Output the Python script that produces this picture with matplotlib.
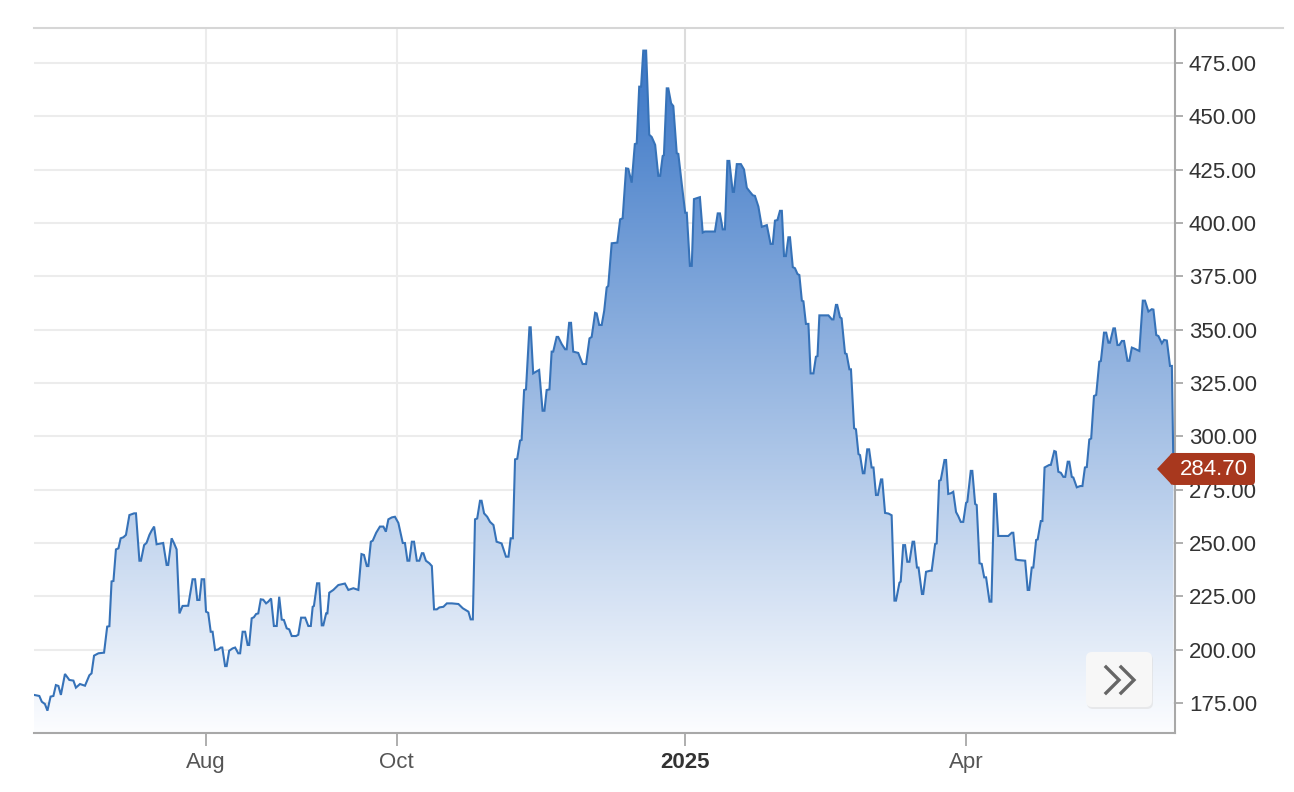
import datetime as dt
import numpy as np
import matplotlib
matplotlib.use("Agg")
import matplotlib.pyplot as plt
import matplotlib.dates as mdates
from matplotlib.patches import Polygon, FancyBboxPatch

plt.rcParams['font.family'] = ['Liberation Sans', 'DejaVu Sans']

# price history (days counted from 7 Jun 2024)
start = dt.datetime(2024, 6, 7)
days = [
    0.0, 1.7, 2.5, 3.5, 4.3, 5.3, 6.2, 7.0, 7.8, 8.6,
    9.9, 11.3, 12.6, 13.4, 14.7, 16.3, 17.7, 18.4, 19.2, 20.6,
    22.4, 23.4, 24.1, 24.8, 25.4, 26.2, 27.0, 27.7, 28.6, 29.4,
    30.5, 32.0, 32.6, 33.7, 34.2, 35.2, 36.0, 36.9, 37.6, 38.4,
    39.2, 40.5, 41.3, 42.4, 42.9, 44.0, 44.8, 45.6, 46.5, 47.5,
    49.3, 50.7, 51.5, 52.2, 52.9, 53.6, 54.4, 55.0, 55.7, 56.5,
    57.1, 57.9, 58.9, 59.7, 60.2, 61.1, 61.6, 62.4, 63.5, 64.3,
    65.3, 65.9, 66.7, 67.5, 68.3, 68.8, 69.6, 70.3, 71.0, 71.7,
    72.5, 73.3, 74.2, 74.9, 75.8, 76.7, 77.6, 78.4, 79.2, 79.9,
    80.8, 81.6, 82.4, 83.8, 84.5, 85.4, 86.7, 87.7, 88.5, 89.1,
    89.5, 90.5, 91.2, 92.0, 92.5, 93.4, 93.8, 94.4, 95.7, 97.3,
    99.4, 100.5, 102.1, 103.7, 104.7, 105.5, 106.4, 106.9, 107.7, 108.3,
    109.4, 110.6, 111.7, 112.5, 113.3, 114.4, 115.4, 116.5, 117.9, 118.6,
    119.4, 120.0, 120.8, 121.5, 122.4, 123.2, 124.0, 124.5, 125.3, 126.4,
    127.2, 127.9, 128.8, 129.6, 130.9, 132.0, 133.6, 135.7, 137.1, 138.9,
    139.6, 140.3, 141.0, 141.7, 142.6, 143.1, 143.9, 144.9, 145.8, 146.9,
    147.9, 149.5, 150.9, 151.7, 152.4, 153.1, 153.8, 154.5, 155.4, 155.9,
    156.7, 157.3, 158.4, 158.8, 159.6, 160.5, 161.5, 162.6, 163.2, 163.9,
    164.8, 165.5, 166.0, 167.1, 167.6, 168.7, 169.8, 170.3, 171.1, 171.7,
    172.4, 174.0, 175.4, 176.5, 177.6, 178.3, 179.4, 179.9, 180.7, 181.5,
    182.3, 183.1, 183.6, 184.7, 186.5, 187.4, 188.2, 189.3, 190.0, 191.1,
    192.1, 192.7, 193.5, 194.1, 194.8, 195.7, 196.7, 197.5, 198.6, 199.6,
    200.2, 201.0, 201.4, 202.3, 202.8, 203.7, 204.4, 205.5, 206.0, 207.1,
    208.2, 208.7, 209.7, 210.3, 211.0, 212.9, 213.8, 214.5, 217.7, 218.6,
    219.3, 220.2, 220.9, 221.7, 222.3, 223.4, 223.8, 224.7, 226.0, 227.0,
    227.9, 228.9, 229.8, 230.5, 231.6, 232.7, 234.3, 235.5, 236.2, 236.9,
    237.7, 238.5, 239.1, 239.8, 240.4, 241.2, 241.7, 242.6, 243.3, 244.1,
    244.7, 245.5, 246.0, 246.8, 247.6, 248.3, 249.2, 250.0, 250.5, 251.1,
    254.0, 255.1, 255.6, 256.4, 256.8, 257.7, 258.2, 259.3, 259.8, 260.7,
    261.2, 262.2, 262.8, 263.6, 264.1, 265.0, 265.5, 266.4, 267.0, 267.8,
    268.4, 269.2, 269.8, 270.8, 271.2, 272.1, 273.2, 274.2, 275.1, 275.6,
    276.7, 277.1, 277.9, 278.5, 279.2, 279.9, 280.9, 281.4, 282.3, 282.8,
    283.9, 284.3, 285.2, 286.5, 287.0, 288.1, 288.6, 289.4, 289.9, 291.1,
    291.6, 292.3, 293.1, 293.9, 294.8, 295.5, 296.3, 297.1, 298.0, 298.4,
    299.5, 300.0, 300.9, 301.4, 302.3, 303.0, 303.8, 304.4, 305.5, 306.1,
    307.0, 307.5, 308.3, 311.5, 312.6, 313.1, 313.9, 314.7, 316.9, 317.7,
    318.2, 319.0, 319.5, 320.4, 320.9, 321.9, 322.4, 323.1, 324.6, 325.1,
    326.2, 326.7, 327.5, 328.3, 329.1, 329.7, 330.5, 331.0, 331.8, 332.3,
    333.4, 334.5, 335.2, 336.0, 336.6, 337.4, 338.0, 338.9, 339.6, 340.6,
    341.1, 342.1, 342.8, 343.5, 344.0, 345.1, 345.6, 346.4, 347.0, 347.8,
    348.5, 349.6, 350.2, 351.0, 351.7, 353.4, 354.5, 355.2, 356.3, 357.4,
    357.9, 358.8, 359.5, 360.6, 361.3, 362.2, 363.2, 363.8, 364.3,
]
price = [
    178.8, 178.3, 175.6, 174.5, 171.4, 178.0, 178.3, 183.4, 183.0, 178.8,
    188.6, 185.8, 185.5, 182.2, 183.9, 183.1, 188.0, 188.9, 197.2, 198.3,
    198.6, 210.8, 211.0, 232.0, 232.2, 247.0, 247.5, 252.2, 252.7, 253.8,
    263.1, 263.9, 263.9, 241.7, 241.7, 249.0, 250.1, 253.8, 255.8, 257.7,
    249.4, 249.8, 250.0, 239.7, 239.7, 252.2, 249.8, 247.0, 217.0, 220.5,
    220.6, 233.0, 233.0, 223.3, 223.3, 233.0, 233.0, 217.8, 217.3, 208.4,
    208.4, 199.8, 200.1, 201.0, 201.0, 192.3, 192.3, 199.5, 200.6, 201.0,
    198.3, 198.3, 208.4, 208.4, 202.2, 202.2, 214.7, 215.2, 216.7, 217.0,
    223.6, 223.4, 221.7, 222.5, 224.0, 211.1, 211.1, 224.8, 214.1, 213.9,
    210.0, 209.5, 206.4, 206.4, 207.0, 215.0, 215.0, 211.1, 211.1, 220.1,
    220.5, 231.1, 231.1, 211.4, 211.4, 217.0, 217.0, 226.7, 228.0, 230.3,
    231.0, 228.0, 228.8, 228.0, 244.8, 244.4, 239.2, 239.2, 250.6, 251.1,
    254.8, 257.7, 257.7, 255.3, 261.1, 262.0, 262.3, 259.4, 250.0, 250.0,
    241.7, 241.7, 250.6, 250.6, 241.7, 241.7, 245.2, 245.2, 241.7, 240.5,
    239.2, 218.9, 218.9, 219.8, 220.1, 221.7, 221.7, 221.4, 219.4, 217.8,
    214.2, 214.2, 261.1, 261.5, 269.8, 269.8, 263.9, 262.3, 259.9, 258.4,
    250.6, 249.8, 243.6, 243.6, 252.2, 252.2, 289.2, 289.5, 298.0, 298.3,
    321.7, 322.0, 351.1, 351.1, 329.5, 330.3, 331.1, 312.0, 312.0, 321.7,
    322.0, 339.7, 339.7, 346.6, 346.6, 343.3, 340.8, 340.8, 353.2, 353.2,
    339.7, 339.1, 333.9, 333.9, 345.9, 346.6, 357.9, 357.6, 352.2, 352.2,
    358.8, 369.8, 370.5, 390.5, 390.8, 401.7, 402.2, 425.6, 425.4, 418.9,
    437.0, 437.3, 463.9, 463.9, 480.8, 480.8, 441.4, 440.3, 436.6, 422.1,
    422.1, 431.4, 431.8, 463.1, 463.1, 456.1, 454.8, 432.7, 432.4, 418.3,
    404.8, 404.8, 379.9, 379.9, 411.2, 412.1, 395.5, 396.0, 396.0, 404.5,
    404.5, 397.0, 397.0, 429.1, 429.1, 414.6, 414.6, 427.6, 427.6, 425.1,
    416.5, 414.6, 413.0, 412.7, 407.7, 398.2, 399.0, 390.2, 390.2, 401.1,
    401.4, 405.7, 405.7, 384.5, 384.5, 393.3, 393.3, 379.3, 378.8, 376.1,
    375.6, 363.6, 363.3, 352.7, 352.7, 329.5, 329.5, 337.3, 337.6, 356.7,
    356.7, 354.8, 354.8, 361.6, 361.6, 355.8, 355.3, 338.9, 338.6, 331.4,
    331.4, 303.8, 303.3, 291.7, 291.2, 282.7, 282.7, 293.9, 293.9, 285.4,
    285.4, 272.5, 272.5, 279.8, 279.8, 264.1, 263.8, 263.0, 223.0, 223.0,
    231.4, 231.9, 249.0, 249.0, 241.2, 241.2, 250.6, 250.6, 238.5, 238.5,
    226.1, 226.1, 236.5, 237.0, 237.0, 249.5, 249.8, 279.2, 279.5, 288.9,
    288.9, 273.0, 273.3, 274.0, 264.5, 262.6, 259.9, 259.9, 268.8, 269.3,
    283.8, 283.8, 268.3, 267.8, 240.5, 240.2, 233.9, 233.9, 222.5, 222.5,
    273.0, 273.0, 253.3, 253.3, 254.8, 254.8, 242.3, 242.0, 241.7, 228.0,
    228.0, 238.5, 238.5, 251.4, 251.7, 260.3, 260.3, 285.4, 286.6, 286.6,
    293.1, 292.8, 283.4, 282.9, 281.0, 281.0, 288.1, 288.1, 281.0, 280.7,
    276.1, 276.7, 276.7, 285.4, 285.6, 298.5, 299.0, 318.9, 319.4, 335.0,
    335.3, 348.6, 348.6, 343.9, 343.9, 350.6, 350.6, 342.8, 342.8, 344.7,
    344.7, 335.4, 335.4, 341.6, 341.2, 340.0, 363.6, 363.6, 358.5, 359.6,
    359.4, 347.5, 347.0, 343.6, 345.2, 344.9, 333.0, 333.0, 284.7,
]
last_price = 284.70

y_ticks = [175, 200, 225, 250, 275, 300, 325, 350, 375, 400, 425, 450, 475]
x_tick_dates = [dt.datetime(2024, 8, 1), dt.datetime(2024, 10, 1),
                dt.datetime(2025, 1, 1), dt.datetime(2025, 4, 1)]
x_tick_labels = ["Aug", "Oct", "2025", "Apr"]

x = mdates.date2num([start + dt.timedelta(days=d) for d in days])
x0 = mdates.date2num(start)
x1 = x0 + 364.8
ymin, ymax = 160.94, 491.4

W, H = 1294, 792
fig = plt.figure(figsize=(W / 100, H / 100), dpi=100)
ax = fig.add_axes([34 / W, 59 / H, 1141 / W, 705 / H])

# gradient fill under the line
top_c = np.array([58, 118, 198]) / 255
bot_c = np.array([252, 253, 255]) / 255
t = np.linspace(0, 1, 256)[:, None]
grad = (bot_c + (top_c - bot_c) * t)[:, None, :]
im = ax.imshow(grad, extent=[x0, x1, ymin, max(price)], origin='lower',
               aspect='auto', zorder=1, interpolation='bilinear')
verts = [(x[0], ymin)] + list(zip(x, price)) + [(x[-1], ymin)]
clip = Polygon(verts, closed=True, facecolor='none', edgecolor='none')
ax.add_patch(clip)
im.set_clip_path(clip)

ax.plot(x, price, color='#3672b8', lw=1.5, zorder=3, solid_joinstyle='miter')

ax.set_xlim(x0, x1)
ax.set_ylim(ymin, ymax)

ax.yaxis.tick_right()
ax.set_yticks(y_ticks)
ax.set_yticklabels([f"{v:.2f}" for v in y_ticks])
ax.set_xticks(mdates.date2num(x_tick_dates))
ax.set_xticklabels(x_tick_labels)
ax.tick_params(axis='y', length=6, width=1.3, color='#a8a8a8', pad=4,
               labelsize=16, labelcolor='#333333')
ax.tick_params(axis='x', length=9, width=1.3, color='#a8a8a8', pad=5,
               labelsize=16, labelcolor='#555555')
ax.get_xticklabels()[2].set_fontweight('bold')
ax.get_xticklabels()[2].set_color('#333333')

ax.grid(True, color='#ececec', lw=1.5, zorder=0)
ax.set_axisbelow(True)
ax.get_xgridlines()[2].set_color('#dcdcdc')

for side in ['left', 'top']:
    ax.spines[side].set_visible(False)
for side in ['right', 'bottom']:
    ax.spines[side].set_color('#a8a8a8')
    ax.spines[side].set_linewidth(1.5)

# overlay in pixel coords for the frame line, price tag and button
ov = fig.add_axes([0, 0, 1, 1], zorder=5)
ov.set_xlim(0, W)
ov.set_ylim(H, 0)
ov.axis('off')
ov.patch.set_alpha(0)

ov.plot([34, 1283], [28, 28], color='#d6d6d6', lw=1.5)

tag_y = 733 - (last_price - ymin) / (ymax - ymin) * 705
tag_col = '#a8381e'
ov.add_patch(FancyBboxPatch((1170, tag_y - 16), 85, 32,
                            boxstyle="round,pad=0,rounding_size=4",
                            facecolor=tag_col, edgecolor='none'))
ov.add_patch(Polygon([(1157, tag_y), (1172, tag_y - 16), (1172, tag_y + 16)],
                     closed=True, facecolor=tag_col, edgecolor='none'))
ov.text(1214, tag_y + 1, f"{last_price:.2f}", color='white', fontsize=16,
        ha='center', va='center')

ov.add_patch(FancyBboxPatch((1087, 654), 66, 55,
                            boxstyle="round,pad=0,rounding_size=6",
                            facecolor='#dedede', edgecolor='none', alpha=0.6))
ov.add_patch(FancyBboxPatch((1086, 652), 66, 55,
                            boxstyle="round,pad=0,rounding_size=6",
                            facecolor='#f7f7f7', edgecolor='none'))
ov.plot([1106, 1119, 1106], [667, 680, 693], color='#666666', lw=2.4,
        solid_joinstyle='miter')
ov.plot([1121, 1134, 1121], [667, 680, 693], color='#666666', lw=2.4,
        solid_joinstyle='miter')

fig.savefig('out.png', dpi=100)
